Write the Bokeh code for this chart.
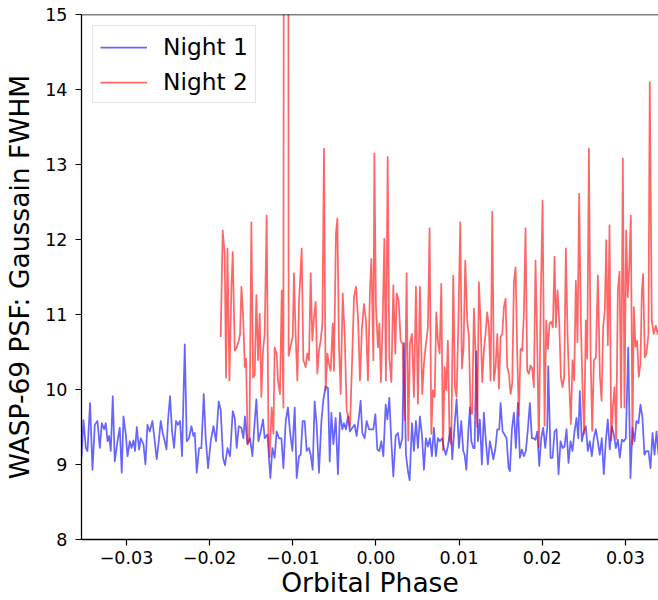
from bokeh.plotting import figure
from bokeh.models import FixedTicker, CustomJSTickFormatter, Span, Legend, LegendItem, Range1d
from bokeh.embed import file_html
from bokeh.resources import INLINE

# ---- data ----
night1_phase = [
    -0.03541, -0.03517, -0.03489, -0.03469, -0.03438, -0.03409, -0.03381, -0.03349, -0.03321, -0.03297,
    -0.03269, -0.03249, -0.03228, -0.03209, -0.03189, -0.03165, -0.03141, -0.03108, -0.03081, -0.03057,
    -0.03036, -0.03008, -0.02988, -0.02960, -0.02940, -0.02916, -0.02897, -0.02876, -0.02849, -0.02828,
    -0.02796, -0.02772, -0.02748, -0.02720, -0.02688, -0.02660, -0.02636, -0.02612, -0.02588, -0.02564,
    -0.02540, -0.02519, -0.02500, -0.02476, -0.02452, -0.02428, -0.02404, -0.02380, -0.02356, -0.02332,
    -0.02299, -0.02275, -0.02248, -0.02219, -0.02195, -0.02179, -0.02155, -0.02127, -0.02099, -0.02071,
    -0.02047, -0.02019, -0.01987, -0.01954, -0.01923, -0.01891, -0.01867, -0.01839, -0.01815, -0.01786,
    -0.01755, -0.01722, -0.01698, -0.01674, -0.01650, -0.01618, -0.01594, -0.01575, -0.01546, -0.01514,
    -0.01486, -0.01462, -0.01438, -0.01413, -0.01386, -0.01358, -0.01338, -0.01305, -0.01270,
    -0.01245, -0.01218, -0.01194, -0.01166, -0.01137, -0.01113, -0.01085, -0.01058, -0.01034, -0.01005,
    -0.00977, -0.00953, -0.00925, -0.00905, -0.00881, -0.00857, -0.00833, -0.00805, -0.00785, -0.00761,
    -0.00737, -0.00713, -0.00685, -0.00656, -0.00632, -0.00605, -0.00577, -0.00556, -0.00536, -0.00512,
    -0.00484, -0.00457, -0.00433, -0.00404, -0.00385, -0.00361, -0.00337, -0.00313, -0.00284, -0.00256,
    -0.00232, -0.00204, -0.00184, -0.00164, -0.00136, -0.00112, -0.00084, -0.00055, -0.00031, -0.00007,
    0.00017, 0.00041, 0.00065, 0.00089, 0.00117, 0.00137, 0.00161, 0.00185, 0.00209, 0.00237,
    0.00264, 0.00288, 0.00317, 0.00337, 0.00361, 0.00385, 0.00405, 0.00433, 0.00457, 0.00481,
    0.00505, 0.00529, 0.00553, 0.00577, 0.00601, 0.00625, 0.00649, 0.00673, 0.00697, 0.00721,
    0.00745, 0.00769, 0.00798, 0.00817, 0.00841, 0.00865,
    0.00898, 0.00918, 0.00946, 0.00970, 0.00998, 0.01026, 0.01050, 0.01066, 0.01087, 0.01111,
    0.01130, 0.01147, 0.01171, 0.01186, 0.01207, 0.01226, 0.01250, 0.01274, 0.01298, 0.01322,
    0.01346, 0.01370, 0.01387, 0.01411, 0.01435, 0.01459, 0.01483, 0.01499, 0.01523, 0.01547,
    0.01571, 0.01595, 0.01611, 0.01635, 0.01659, 0.01683, 0.01707, 0.01731, 0.01755, 0.01779,
    0.01803, 0.01827, 0.01851, 0.01875, 0.01899, 0.01919, 0.01940, 0.01964, 0.01988, 0.02012,
    0.02036, 0.02060, 0.02072, 0.02100, 0.02124, 0.02148, 0.02172, 0.02196, 0.02220, 0.02244,
    0.02268, 0.02292, 0.02316, 0.02340, 0.02364, 0.02388, 0.02412, 0.02433, 0.02452, 0.02476,
    0.02500, 0.02524, 0.02548, 0.02572, 0.02596, 0.02620, 0.02644, 0.02668, 0.02692, 0.02716,
    0.02740, 0.02764, 0.02788, 0.02812, 0.02837, 0.02861, 0.02885, 0.02909, 0.02933, 0.02957,
    0.02981, 0.03005, 0.03034, 0.03061, 0.03085, 0.03109, 0.03133, 0.03157, 0.03181, 0.03205,
    0.03229, 0.03253, 0.03277, 0.03302, 0.03326, 0.03350, 0.03374, 0.03398, 0.03420,
]
night1_fwhm = [
    9.09, 9.59, 9.22, 9.18, 9.82, 8.93, 9.53, 9.58, 9.22, 9.55,
    9.47, 9.55, 9.31, 9.38, 9.18, 9.91, 9.04, 9.31, 9.49, 8.89,
    9.64, 9.40, 9.11, 9.31, 9.22, 9.32, 9.18, 9.50, 9.20, 9.35,
    9.27, 9.00, 9.53, 9.44, 9.58, 9.31, 9.07, 9.31, 9.58, 9.42,
    9.31, 9.20, 9.60, 9.91, 9.44, 9.22, 9.58, 9.53, 9.58, 9.11,
    10.60, 9.31, 9.35, 9.51, 9.38, 9.42, 8.89, 9.22, 9.22, 9.94,
    9.35, 8.95, 9.31, 9.51, 9.31, 9.84, 9.73, 9.09, 8.99, 9.22,
    9.11, 9.71, 9.62, 9.22, 9.51, 9.49, 9.35, 9.64, 9.27, 9.35,
    9.11, 9.51, 9.87, 9.31, 9.44, 9.60, 9.35, 9.40, 8.82,
    9.22, 9.09, 9.44, 9.35, 9.35, 8.95, 9.58, 9.76, 9.44, 9.18,
    9.76, 8.82, 9.11, 9.13, 9.58, 9.58, 9.18, 9.22, 9.13, 8.93,
    9.84, 9.53, 8.89, 9.58, 9.87, 10.04, 10.02, 9.04, 9.69, 9.27,
    9.62, 8.87, 9.69, 9.47, 9.55, 9.47, 9.64, 9.44, 9.49, 9.53,
    9.38, 9.64, 9.85, 9.42, 9.35, 9.58, 9.47, 9.47, 9.47, 9.67,
    9.20, 9.18, 9.31, 9.11, 9.80, 9.60, 9.89, 9.31, 8.84, 9.38,
    9.42, 9.22, 9.35, 10.62, 9.13, 8.91, 8.79, 9.55, 9.18, 9.58,
    9.22, 9.64, 9.40, 8.93, 9.35, 9.24, 9.35, 9.11, 9.49, 9.11,
    9.35, 9.31, 9.35, 9.22, 9.13, 9.24,
    9.49, 9.07, 9.53, 9.87, 9.22, 9.58, 9.18, 9.13, 8.93, 9.44,
    9.76, 9.31, 9.22, 9.22, 10.51, 9.31, 9.60, 9.00, 9.69, 9.31,
    9.00, 9.31, 9.22, 9.07, 9.20, 9.47, 9.47, 9.82, 9.44, 9.40,
    9.35, 8.95, 8.91, 9.47, 9.69, 9.22, 9.82, 9.09, 9.20, 9.11,
    9.18, 9.47, 9.82, 9.35, 9.35, 9.33, 9.44, 8.98, 9.35, 9.49,
    9.22, 9.49, 10.31, 9.09, 9.09, 9.44, 9.47, 8.87, 9.31, 9.22,
    9.24, 9.47, 9.02, 9.31, 9.18, 9.44, 9.62, 9.35, 9.98, 9.31,
    9.44, 9.51, 9.18, 9.31, 9.11, 9.35, 9.47, 9.31, 9.13, 9.35,
    8.87, 9.31, 9.60, 9.20, 9.51, 9.40, 9.22, 9.33, 9.09, 9.33,
    9.31, 9.35, 10.56, 8.82, 9.49, 9.31, 9.58, 9.55, 9.80, 9.62,
    9.13, 9.18, 9.18, 8.95, 9.42, 9.13, 9.44, 9.13, 9.30,
]

night2_phase = [
    -0.01867, -0.01843, -0.01819, -0.01803, -0.01786, -0.01762, -0.01738, -0.01722, -0.01698, -0.01674,
    -0.01650, -0.01634, -0.01618, -0.01598, -0.01578, -0.01562, -0.01542, -0.01522, -0.01498, -0.01478,
    -0.01458, -0.01438, -0.01418, -0.01398, -0.01378, -0.01358, -0.01338, -0.01314, -0.01293, -0.01278,
    -0.01254, -0.01233, -0.01218, -0.01194, -0.01178, -0.01154, -0.01133, -0.01113, -0.01083, -0.01050,
    -0.01022, -0.01001, -0.00986, -0.00965, -0.00945, -0.00925, -0.00893, -0.00873, -0.00845, -0.00825,
    -0.00805, -0.00785, -0.00765, -0.00745, -0.00725, -0.00705, -0.00685, -0.00665, -0.00644, -0.00625,
    -0.00605, -0.00584, -0.00565, -0.00544, -0.00520, -0.00505, -0.00481, -0.00464, -0.00445, -0.00424,
    -0.00400, -0.00376, -0.00352, -0.00328, -0.00312, -0.00284, -0.00264, -0.00240, -0.00216, -0.00192,
    -0.00168, -0.00144, -0.00120, -0.00096, -0.00072, -0.00055, -0.00031, -0.00019, 0.00000, 0.00024,
    0.00041, 0.00060, 0.00081, 0.00101, 0.00120, 0.00141, 0.00161, 0.00185, 0.00209, 0.00233,
    0.00249, 0.00273, 0.00297, 0.00321, 0.00345, 0.00369, 0.00389, 0.00409, 0.00433, 0.00457,
    0.00481, 0.00505, 0.00529, 0.00557, 0.00577, 0.00597, 0.00625, 0.00645, 0.00666, 0.00685,
    0.00706, 0.00726, 0.00745, 0.00766, 0.00786, 0.00806, 0.00826, 0.00846, 0.00865, 0.00886,
    0.00906, 0.00930, 0.00950, 0.00970, 0.00990, 0.01014, 0.01034, 0.01054, 0.01074, 0.01098,
    0.01118, 0.01138, 0.01158, 0.01178, 0.01198, 0.01218, 0.01238, 0.01258, 0.01278, 0.01298,
    0.01318, 0.01338, 0.01358, 0.01379, 0.01399, 0.01419, 0.01439, 0.01459, 0.01479, 0.01499,
    0.01519, 0.01539, 0.01559, 0.01579, 0.01599, 0.01619, 0.01639, 0.01659, 0.01679, 0.01699,
    0.01719, 0.01739, 0.01759, 0.01779, 0.01799, 0.01819, 0.01839, 0.01859, 0.01879, 0.01899,
    0.01919, 0.01939, 0.01959, 0.01980, 0.02004, 0.02028, 0.02048, 0.02068, 0.02088, 0.02108,
    0.02128, 0.02148, 0.02164, 0.02184, 0.02204, 0.02224, 0.02244, 0.02264, 0.02284, 0.02304,
    0.02324, 0.02344, 0.02364, 0.02384, 0.02404, 0.02424, 0.02444, 0.02464, 0.02484, 0.02504,
    0.02524, 0.02541, 0.02561, 0.02581, 0.02601, 0.02621, 0.02645, 0.02669, 0.02693, 0.02713,
    0.02733, 0.02753, 0.02769, 0.02789, 0.02809, 0.02829, 0.02849, 0.02869, 0.02889, 0.02909,
    0.02929, 0.02949, 0.02969, 0.02989, 0.03009, 0.03029, 0.03046, 0.03065, 0.03085, 0.03101,
    0.03121, 0.03141, 0.03161, 0.03181, 0.03197, 0.03213, 0.03233, 0.03253, 0.03277, 0.03293,
    0.03317, 0.03341, 0.03365, 0.03389, 0.03413,
]
night2_fwhm = [
    10.70, 12.12, 11.81, 10.16, 11.88, 10.12, 11.37, 11.83, 10.52, 10.56,
    10.65, 10.74, 11.37, 11.01, 10.30, 10.41, 9.27, 9.32, 12.23, 10.16,
    10.19, 11.26, 10.39, 11.01, 9.90, 10.52, 10.74, 12.32, 9.41, 9.10,
    9.76, 9.41, 10.56, 10.48, 10.12, 9.94, 11.32, 9.76, 60.0, 10.45,
    10.60, 10.70, 11.55, 10.70, 10.12, 11.17, 11.88, 10.39, 10.30, 10.48,
    10.39, 11.55, 10.65, 10.96, 11.17, 10.21, 10.52, 10.65, 10.88, 13.21,
    9.99, 10.48, 10.34, 10.25, 10.88, 10.25, 12.08, 12.28, 10.61, 9.94,
    11.28, 10.74, 9.72, 9.63, 9.50, 10.48, 11.23, 11.37, 10.96, 10.12,
    10.83, 11.14, 10.92, 10.12, 11.32, 11.74, 10.39, 13.15, 11.10, 10.56,
    10.88, 10.10, 10.92, 12.01, 10.12, 13.10, 10.43, 10.10, 11.39, 10.48,
    11.28, 11.19, 10.65, 10.61, 9.59, 11.55, 9.32, 10.61, 10.74, 9.90,
    11.37, 9.81, 11.37, 9.94, 10.34, 10.57, 10.83, 12.15, 9.41, 9.99,
    9.90, 11.03, 10.65, 10.48, 11.41, 9.19, 10.30, 9.99, 10.65, 9.32,
    9.27, 11.52, 10.03, 9.90, 10.83, 12.23, 10.28, 10.57, 11.72, 10.92,
    10.70, 9.68, 9.68, 11.08, 10.48, 9.50, 11.43, 10.92, 10.10, 10.52,
    10.74, 11.03, 10.83, 10.12, 12.37, 10.12, 10.30, 10.74, 10.01, 10.70,
    10.74, 11.10, 11.21, 10.30, 10.21, 9.94, 10.08, 11.43, 11.63, 10.48,
    9.65, 10.54, 10.52, 11.01, 12.15, 10.25, 10.21, 10.32, 10.28, 10.03,
    11.72, 10.65, 9.23, 11.10, 12.52, 9.52, 10.92, 10.54, 10.88, 10.90,
    10.83, 11.77, 10.83, 11.32, 10.92, 10.17, 10.03, 10.17, 11.88, 10.74,
    10.08, 9.54, 10.39, 10.12, 11.45, 10.63, 12.61, 10.92, 10.01, 9.41,
    10.92, 10.41, 13.21, 10.48, 9.45, 10.39, 10.43, 11.52, 10.19, 9.85,
    10.83, 11.08, 11.99, 10.59, 12.19, 9.32, 9.76, 10.03, 9.34, 11.32,
    11.57, 9.76, 13.08, 9.76, 12.12, 11.23, 11.63, 12.32, 9.27, 11.10,
    10.57, 10.65, 10.17, 10.34, 11.28, 11.54, 10.43, 10.48, 10.74, 14.10,
    10.92, 10.74, 10.85, 10.74, 10.90,
]

x_ticks = [-0.03, -0.02, -0.01, 0.00, 0.01, 0.02, 0.03]
y_ticks = [8, 9, 10, 11, 12, 13, 14, 15]
series_labels = ["Night 1", "Night 2"]
x_label = "Orbital Phase"
y_label = "WASP-69 PSF: Gaussain FWHM"

FONT = "DejaVu Sans"

p = figure(width=658, height=600, output_backend="svg", toolbar_location=None,
           x_range=Range1d(-0.03541, 0.03398), y_range=Range1d(8, 15),
           min_border_left=81, min_border_right=0, min_border_top=14, min_border_bottom=61)
p.outline_line_color = None
p.xgrid.visible = False
p.ygrid.visible = False
p.background_fill_color = "white"
p.border_fill_color = "white"

r1 = p.line(night1_phase, night1_fwhm, line_color="blue", line_alpha=0.6, line_width=1.75, line_join="round")
r2 = p.line(night2_phase, night2_fwhm, line_color="red", line_alpha=0.6, line_width=1.75, line_join="round")

p.add_layout(Span(location=15, dimension="width", line_color="black", line_width=1.3))

for ax in (p.xaxis[0], p.yaxis[0]):
    ax.axis_line_color = "black"
    ax.axis_line_width = 1.3
    ax.major_tick_line_color = "black"
    ax.major_tick_line_width = 1.2
    ax.major_tick_out = 6
    ax.major_tick_in = 0
    ax.minor_tick_line_color = None
    ax.major_label_text_font = FONT
    ax.major_label_text_font_size = "17.5px"
    ax.major_label_text_color = "black"
    ax.axis_label_text_font = FONT
    ax.axis_label_text_font_size = "26.5px"
    ax.axis_label_text_font_style = "normal"
    ax.axis_label_text_color = "black"

p.xaxis.ticker = FixedTicker(ticks=x_ticks)
p.yaxis.ticker = FixedTicker(ticks=y_ticks)
p.xaxis.formatter = CustomJSTickFormatter(code="""
    const s = Math.abs(tick).toFixed(2);
    return (tick < -1e-9 ? '\u2212' : '') + s;
""")
p.xaxis.axis_label = x_label
p.yaxis.axis_label = y_label
p.xaxis.major_label_standoff = 5
p.yaxis.major_label_standoff = 8
p.xaxis.axis_label_standoff = 0
p.yaxis.axis_label_standoff = 7
p.xaxis.axis_label_text_line_height = 1.0

legend = Legend(items=[LegendItem(label=series_labels[0], renderers=[r1]),
                       LegendItem(label=series_labels[1], renderers=[r2])],
                location="top_left")
legend.margin = 11
legend.padding = 7
legend.spacing = 8
legend.glyph_width = 47
legend.glyph_height = 26
legend.label_height = 26
legend.label_standoff = 16
legend.label_text_font = FONT
legend.label_text_font_size = "23.3px"
legend.label_text_color = "black"
legend.border_line_color = "#cccccc"
legend.border_line_width = 1
legend.background_fill_color = "white"
legend.background_fill_alpha = 0.8
p.add_layout(legend)

open("out.html", "w").write(file_html(p, INLINE))
